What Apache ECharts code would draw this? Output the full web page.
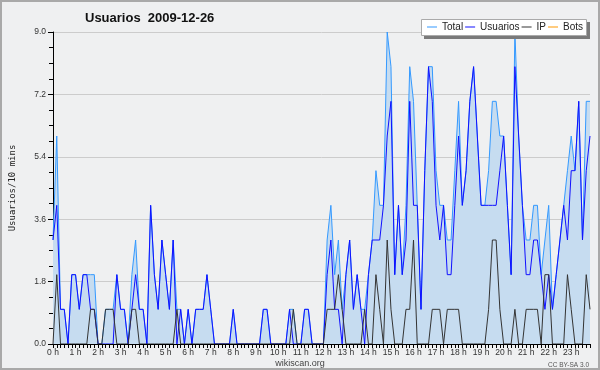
<!DOCTYPE html>
<html><head><meta charset="utf-8">
<script src="https://cdn.jsdelivr.net/npm/echarts@6/dist/echarts.min.js"></script>
<style>html,body{margin:0;padding:0;background:#eff0f1}#c{width:600px;height:370px}</style>
</head><body><div id="c"></div>
<script>
// tick labels
const hourLabels = ['0 h','1 h','2 h','3 h','4 h','5 h','6 h','7 h','8 h','9 h','10 h','11 h',
  '12 h','13 h','14 h','15 h','16 h','17 h','18 h','19 h','20 h','21 h','22 h','23 h'];
const yMin = 0, yMax = 9, yStep = 1.8;
const seriesNames = ['Total', 'Usuarios', 'IP', 'Bots'];

// one value per 10 minutes (144 slots)
const total = [
  3,6,1,1,0,2,2,1,2,2,2,2,
  0,0,1,1,1,2,1,1,0,2,3,1,
  1,0,4,2,1,3,2,1,3,1,1,0,
  1,0,1,1,1,2,1,0,0,0,0,0,
  1,0,0,0,0,0,0,0,1,1,0,0,
  0,0,0,1,1,0,0,1,1,0,0,0,
  0,3,4,2,3,1,2,3,1,2,1,1,
  2,3,5,4,4,9,8,2,4,2,4,8,
  7,4,1,5,8,8,5,4,4,3,3,5,
  7,4,5,7,8,6,4,4,5,7,7,6,
  6,4,2,9,6,4,3,3,4,4,2,3,
  4,1,2,3,4,5,6,5,7,3,7,7];
const usuarios = [
  3,4,1,1,0,2,2,1,2,2,1,1,
  0,0,0,0,0,2,1,1,0,1,2,1,
  1,0,4,2,1,3,2,1,3,0,1,0,
  1,0,1,1,1,2,1,0,0,0,0,0,
  1,0,0,0,0,0,0,0,1,1,0,0,
  0,0,0,1,0,0,0,1,1,0,0,0,
  0,2,3,1,1,0,2,3,1,2,1,0,
  2,3,3,3,4,6,7,2,4,2,3,7,
  4,4,1,5,8,7,4,3,4,2,2,4,
  6,4,5,7,8,6,4,4,4,4,4,5,
  6,4,2,8,6,4,2,2,3,3,2,1,
  2,1,2,3,4,3,5,5,7,3,5,6];
const ip = [
  0,2,0,0,0,0,0,0,0,0,1,1,
  0,0,1,1,1,0,0,0,0,1,1,0,
  0,0,0,0,0,0,0,0,0,1,0,0,
  0,0,0,0,0,0,0,0,0,0,0,0,
  0,0,0,0,0,0,0,0,0,0,0,0,
  0,0,0,0,1,0,0,0,0,0,0,0,
  0,1,1,1,2,1,0,0,0,0,0,1,
  0,0,2,1,0,3,1,0,0,0,1,1,
  3,0,0,0,0,1,1,1,0,1,1,1,
  1,0,0,0,0,0,0,0,1,3,3,1,
  0,0,0,1,0,0,1,1,1,1,0,2,
  2,0,0,0,0,2,1,0,0,0,2,1];
const bots = [
  0,0,0,0,0,0,0,0,0,0,0,0,
  0,0,0,0,0,0,0,0,0,0,0,0,
  0,0,0,0,0,0,0,0,0,0,0,0,
  0,0,0,0,0,0,0,0,0,0,0,0,
  0,0,0,0,0,0,0,0,0,0,0,0,
  0,0,0,0,0,0,0,0,0,0,0,0,
  0,0,0,0,0,0,0,0,0,0,0,0,
  0,0,0,0,0,0,0,0,0,0,0,0,
  0,0,0,0,0,0,0,0,0,0,0,0,
  0,0,0,0,0,0,0,0,0,0,0,0,
  0,0,0,0,0,0,0,0,0,0,0,0,
  0,0,0,0,0,0,0,0,0,0,0,0];

const slots = total.map((_, i) => (i % 6 === 0 ? hourLabels[i / 6] : ''));
const font = 'Liberation Sans, Arial, sans-serif';

const chart = echarts.init(document.getElementById('c'), null, {renderer: 'canvas'});
chart.setOption({
  animation: false,
  backgroundColor: '#eff0f1',
  title: [
    {text: 'Usuarios  2009-12-26', left: 85, top: 12, padding: 0,
     textStyle: {fontFamily: font, fontSize: 13, fontWeight: 'bold', color: '#111'}},
    {text: 'wikiscan.org', left: 'center', top: 359, padding: 0,
     textStyle: {fontFamily: font, fontSize: 9, fontWeight: 'normal', color: '#444'}},
    {text: 'CC BY-SA 3.0', right: 11, top: 362, padding: 0,
     textStyle: {fontFamily: font, fontSize: 6.5, fontWeight: 'normal', color: '#555'}}
  ],
  legend: {
    left: 427, top: 22, padding: 0, z: 20,
    itemWidth: 10, itemHeight: 1, itemGap: 2, icon: 'rect',
    data: seriesNames,
    textStyle: {fontFamily: font, fontSize: 10, color: '#222'}
  },
  graphic: [
    {type: 'rect', z: 10, shape: {x: 424, y: 22, width: 166, height: 17}, style: {fill: '#7a7a7a'}},
    {type: 'rect', z: 11, shape: {x: 421.5, y: 19.5, width: 165, height: 16}, style: {fill: '#ffffff', stroke: '#aaaaaa', lineWidth: 1}},
    {type: 'rect', z: 12, shape: {x: 1, y: 1, width: 598, height: 368}, style: {fill: 'none', stroke: '#a9a9a9', lineWidth: 2}}
  ],
  grid: {left: 47, right: 10, top: 32, bottom: 26},
  xAxis: {
    type: 'category', boundaryGap: false, data: slots, z: 8,
    axisLine: {lineStyle: {color: '#000', width: 1}},
    axisTick: {show: true, interval: 0, length: 4, lineStyle: {color: '#000'}},
    axisLabel: {interval: (i) => i % 6 === 0, margin: 4, fontFamily: font, fontSize: 8.5, color: '#333'},
    splitLine: {show: false}
  },
  yAxis: {
    type: 'value', min: yMin, max: yMax, interval: yStep,
    name: 'Usuarios/10 mins', nameLocation: 'middle', nameGap: 36, nameRotate: 90,
    nameTextStyle: {fontFamily: 'DejaVu Sans Mono, monospace', fontSize: 9, color: '#222'},
    axisLine: {show: true, lineStyle: {color: '#000', width: 1}},
    axisTick: {show: true, length: 5, lineStyle: {color: '#000'}},
    minorTick: {show: true, splitNumber: 4, length: 4, lineStyle: {color: '#000'}},
    axisLabel: {formatter: (v) => v.toFixed(1), margin: 7, fontFamily: font, fontSize: 8.5, color: '#333'},
    splitLine: {show: true, lineStyle: {color: '#cccccc', width: 1}}
  },
  series: [
    {name: 'Total', type: 'line', data: total, symbol: 'none', z: 2,
     lineStyle: {color: '#3399ff', width: 1}, itemStyle: {color: '#3399ff'},
     areaStyle: {color: '#c6dcf0', opacity: 1}},
    {name: 'Usuarios', type: 'line', data: usuarios, symbol: 'none', z: 3,
     lineStyle: {color: '#1010ff', width: 1}, itemStyle: {color: '#1010ff'}},
    {name: 'IP', type: 'line', data: ip, symbol: 'none', z: 3,
     lineStyle: {color: '#333333', width: 1}, itemStyle: {color: '#333333'}},
    {name: 'Bots', type: 'line', data: bots, symbol: 'none', z: 1,
     lineStyle: {color: '#ff9900', width: 1}, itemStyle: {color: '#ff9900'}}
  ]
});
</script>
</body></html>
